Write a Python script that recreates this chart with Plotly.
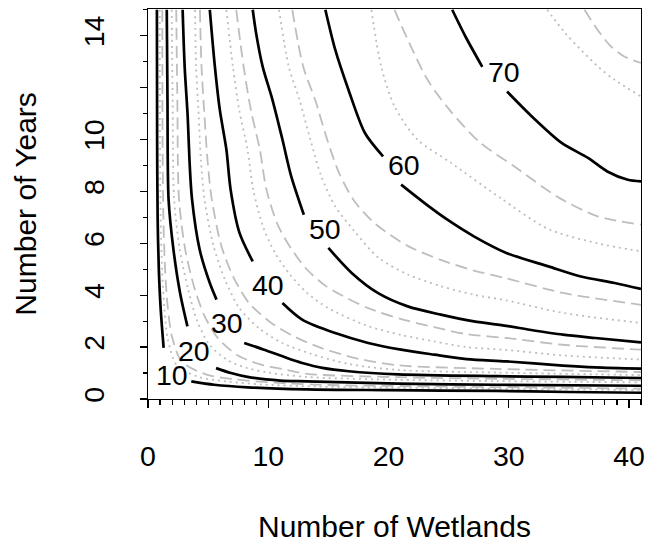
import plotly.graph_objects as go

# ---------------- data ----------------
levels = [10, 20, 30, 40, 50, 60, 70]
label_x = [1.98, 3.83, 6.58, 10.0, 14.68, 21.26, 29.63]
label_y = [0.94, 1.86, 2.94, 4.40, 6.55, 9.00, 12.62]

x_ticks = [0, 10, 20, 30, 40]
y_ticks = [0, 2, 4, 6, 8, 10, 12, 14]
y_tick_text = ["0", "2", "4", "6", "8", "10", "", "14"]

# black (solid) contour lines; None marks the gap left for the label
solid_10_x = [0.74, 0.76, 0.80, 0.90, 1.05, 1.30, None, 3.6, 5.5, 8.3, 13.2, 20, 29, 35, 41]
solid_10_y = [15.0, 10.0, 7.0, 5.0, 3.5, 1.97, None, 0.68, 0.55, 0.45, 0.37, 0.34, 0.31, 0.27, 0.24]
solid_20_x = [1.56, 1.62, 1.71, 2.12, 2.67, 3.28, None, 5.66, 6.9, 8.27, 11.0, 13.2, 20.8, 29, 41]
solid_20_y = [15.0, 11.5, 7.7, 5.75, 4.08, 2.8, None, 1.19, 1.0, 0.85, 0.71, 0.68, 0.59, 0.55, 0.51]
solid_30_x = [2.88, 3.05, 3.3, 3.45, 3.66, 4.3, 5.14, 5.7, None, 8.0, 9.65, 11.56, 12.82, 14.5, 16.7, 20.8, 29, 34.5, 41]
solid_30_y = [15.0, 12.8, 10.9, 9.2, 7.7, 5.75, 4.47, 3.83, None, 2.16, 1.9, 1.58, 1.39, 1.2, 1.07, 0.95, 0.88, 0.85, 0.81]
solid_40_x = [5.14, 5.56, 5.97, 6.52, 6.87, 7.61, 8.71, None, 11.18, 12.82, 15.57, 18.31, 21.05, 23.8, 26.5, 29.8, 34.5, 37.2, 41]
solid_40_y = [15.0, 12.82, 11.15, 9.61, 8.07, 6.4, 5.3, None, 3.7, 3.06, 2.54, 2.16, 1.9, 1.71, 1.54, 1.45, 1.29, 1.22, 1.17]
solid_50_x = [8.71, 8.99, 9.53, 10.35, 11.18, 11.9, 12.96, None, 15.0, 16.94, 19.14, 21.6, 24.35, 27.1, 29.8, 31.75, 34.5, 37.2, 41]
solid_50_y = [15.0, 14.1, 12.82, 11.53, 10.0, 8.6, 7.1, None, 5.82, 4.86, 4.08, 3.57, 3.25, 2.99, 2.82, 2.67, 2.48, 2.35, 2.18]
solid_60_x = [14.75, 15.57, 16.67, 18.04, 19.55, None, 21.05, 23.0, 24.9, 27.1, 29.8, 33.3, 36.0, 38.8, 41]
solid_60_y = [15.0, 13.46, 11.92, 10.25, 9.35, None, 8.26, 7.55, 6.91, 6.27, 5.63, 5.11, 4.72, 4.47, 4.24]
solid_70_x = [25.3, 26.4, 27.8, None, 29.86, 31.9, 34.4, 36.6, 38.2, 39.9, 41]
solid_70_y = [15.0, 13.97, 12.8, None, 11.85, 10.9, 9.87, 9.29, 8.77, 8.45, 8.39]

# grey dotted contour lines
dotted_10_x = [0.98, 1.0, 1.05, 1.17, 1.36, 1.65, 2.4, 4.2, 6.5, 9.5, 14, 20, 29, 41]
dotted_10_y = [15, 10, 7, 5, 3.5, 2.3, 1.3, 0.85, 0.68, 0.56, 0.48, 0.44, 0.40, 0.34]
dotted_20_x = [1.97, 2.05, 2.17, 2.65, 3.35, 4.1, 5.1, 6.6, 8.2, 10, 13.2, 20.8, 29, 41]
dotted_20_y = [15, 11.5, 7.7, 5.75, 4.2, 3.0, 2.1, 1.5, 1.2, 1.02, 0.85, 0.74, 0.69, 0.64]
dotted_30_x = [3.91, 4.0, 4.22, 4.4, 4.7, 5.45, 6.4, 7.6, 9.3, 11.2, 13.5, 16.7, 20.8, 29, 41]
dotted_30_y = [15, 12.8, 10.9, 9.2, 7.7, 5.9, 4.6, 3.5, 2.7, 2.15, 1.75, 1.35, 1.12, 1.02, 0.92]
dotted_40_x = [6.52, 7.06, 7.58, 8.28, 8.75, 9.6, 10.6, 11.8, 13.2, 15.0, 18.31, 21.05, 23.8, 26.5, 29.8, 34.5, 41]
dotted_40_y = [15, 12.82, 11.15, 9.61, 8.07, 6.6, 5.6, 4.8, 4.1, 3.5, 2.81, 2.47, 2.22, 2.0, 1.89, 1.68, 1.52]
dotted_50_x = [10.9, 11.7, 12.6, 13.5, 14.4, 15.6, 17.2, 19.14, 21.6, 24.35, 27.1, 29.8, 34.5, 41]
dotted_50_y = [15, 12.82, 11.53, 10.0, 8.6, 7.4, 6.45, 5.45, 4.8, 4.35, 4.02, 3.8, 3.32, 2.93]
dotted_60_x = [18.58, 19.4, 20.5, 22.4, 25.2, 29.3, 33.3, 37.4, 41]
dotted_60_y = [15, 12.8, 11.28, 10.0, 9.1, 7.75, 6.55, 6.0, 5.69]
dotted_70_x = [33.2, 34.7, 36.0, 37.4, 38.8, 41]
dotted_70_y = [15, 14.1, 13.46, 12.82, 12.3, 11.66]

# grey dashed contour lines
dashed_10_x = [1.19, 1.21, 1.28, 1.42, 1.65, 2.0, 2.8, 4.8, 7.2, 10.5, 15, 21, 29, 41]
dashed_10_y = [15, 10, 7, 5, 3.5, 2.4, 1.45, 0.95, 0.76, 0.63, 0.54, 0.50, 0.46, 0.40]
dashed_20_x = [2.35, 2.44, 2.58, 3.1, 3.85, 4.7, 5.8, 7.4, 9.2, 11.2, 13.2, 20.8, 29, 41]
dashed_20_y = [15, 11.5, 7.7, 5.75, 4.3, 3.2, 2.35, 1.7, 1.35, 1.15, 0.97, 0.84, 0.78, 0.72]
dashed_30_x = [4.32, 4.45, 4.7, 4.95, 5.3, 6.1, 7.1, 8.4, 10.2, 12.2, 14.5, 17.5, 20.8, 29, 41]
dashed_30_y = [15, 12.8, 10.9, 9.2, 7.7, 5.9, 4.7, 3.7, 2.95, 2.4, 1.95, 1.55, 1.3, 1.16, 1.04]
dashed_40_x = [7.34, 7.95, 8.55, 9.3, 9.85, 10.8, 11.9, 13.2, 14.8, 16.5, 18.31, 21.05, 23.8, 26.5, 29.8, 34.5, 41]
dashed_40_y = [15, 12.82, 11.15, 9.61, 8.07, 6.7, 5.8, 5.0, 4.35, 3.9, 3.5, 3.08, 2.77, 2.5, 2.35, 2.09, 1.9]
dashed_50_x = [12.0, 12.9, 13.9, 14.9, 15.9, 17.2, 18.9, 21.6, 24.35, 27.1, 29.8, 34.5, 41]
dashed_50_y = [15, 12.82, 11.53, 10.0, 8.7, 7.6, 6.75, 5.9, 5.36, 4.95, 4.65, 4.09, 3.63]
dashed_60_x = [20.5, 21.6, 23.25, 25.06, 27.5, 30.5, 34.2, 37.4, 41]
dashed_60_y = [15, 13.85, 12.3, 11.15, 9.93, 8.95, 7.75, 7.04, 6.72]
dashed_70_x = [36.3, 37.4, 38.5, 39.6, 41]
dashed_70_y = [15, 14.22, 13.59, 13.2, 12.95]

# ---------------- figure ----------------
FONT = "Arial, Liberation Sans, sans-serif"
GREY = "#BEBEBE"

solid_lines = [(solid_10_x, solid_10_y), (solid_20_x, solid_20_y), (solid_30_x, solid_30_y),
               (solid_40_x, solid_40_y), (solid_50_x, solid_50_y), (solid_60_x, solid_60_y),
               (solid_70_x, solid_70_y)]
dotted_lines = [(dotted_10_x, dotted_10_y), (dotted_20_x, dotted_20_y), (dotted_30_x, dotted_30_y),
                (dotted_40_x, dotted_40_y), (dotted_50_x, dotted_50_y), (dotted_60_x, dotted_60_y),
                (dotted_70_x, dotted_70_y)]
dashed_lines = [(dashed_10_x, dashed_10_y), (dashed_20_x, dashed_20_y), (dashed_30_x, dashed_30_y),
                (dashed_40_x, dashed_40_y), (dashed_50_x, dashed_50_y), (dashed_60_x, dashed_60_y),
                (dashed_70_x, dashed_70_y)]

fig = go.Figure()

for lev, (xs, ys) in zip(levels, dotted_lines):
    fig.add_trace(go.Scatter(x=xs, y=ys, mode="lines", name=f"{lev} (dotted)",
                             line=dict(color=GREY, width=1.8, dash="2px,4px",
                                       shape="spline", smoothing=0.8),
                             hoverinfo="skip", showlegend=False))
for lev, (xs, ys) in zip(levels, dashed_lines):
    fig.add_trace(go.Scatter(x=xs, y=ys, mode="lines", name=f"{lev} (dashed)",
                             line=dict(color=GREY, width=1.8, dash="12px,6px",
                                       shape="spline", smoothing=0.8),
                             hoverinfo="skip", showlegend=False))
for lev, (xs, ys) in zip(levels, solid_lines):
    fig.add_trace(go.Scatter(x=xs, y=ys, mode="lines", name=str(lev),
                             line=dict(color="black", width=2.7,
                                       shape="spline", smoothing=0.8),
                             connectgaps=False, hoverinfo="skip", showlegend=False))

for lev, lx, ly in zip(levels, label_x, label_y):
    fig.add_annotation(x=lx, y=ly, xref="x", yref="y", text=str(lev), showarrow=False,
                       font=dict(family=FONT, size=28.5, color="black"),
                       xanchor="center", yanchor="middle")

PLOT_W = 497.5
PLOT_H = 390.0
# axis titles
fig.add_annotation(x=0.5, y=-(527 - 399.3) / PLOT_H, xref="paper", yref="paper",
                   text="Number of Wetlands",
                   showarrow=False, font=dict(family=FONT, size=30, color="black"),
                   xanchor="center", yanchor="middle")
fig.add_annotation(x=-(147.5 - 23) / PLOT_W, y=0.5, xref="paper", yref="paper",
                   text="Number of Years",
                   showarrow=False, textangle=-90, font=dict(family=FONT, size=30, color="black"),
                   xanchor="center", yanchor="middle")

fig.update_xaxes(range=[0, 41], showgrid=False, zeroline=False,
                 showline=True, linecolor="black", linewidth=1.3, mirror=True,
                 ticks="outside", tickmode="array", tickvals=x_ticks, ticklen=8,
                 tickwidth=1.3, tickcolor="black", ticklabelstandoff=23,
                 tickfont=dict(family=FONT, size=28.5, color="black"),
                 minor=dict(tickmode="linear", tick0=0, dtick=1, ticks="outside",
                            ticklen=5, tickwidth=1.1, tickcolor="black", showgrid=False))
fig.update_yaxes(range=[0, 15.03], showgrid=False, zeroline=False,
                 showline=True, linecolor="black", linewidth=1.3, mirror=True,
                 ticks="outside", tickmode="array", tickvals=y_ticks, ticktext=y_tick_text,
                 ticklen=7, tickwidth=1.3, tickcolor="black", tickangle=-90,
                 ticklabelstandoff=24,
                 tickfont=dict(family=FONT, size=28.5, color="black"),
                 minor=dict(tickmode="linear", tick0=0, dtick=1, ticks="outside",
                            ticklen=4, tickwidth=1.1, tickcolor="black", showgrid=False))

fig.update_layout(width=652, height=542, autosize=False,
                  margin=dict(l=147.5, r=7, t=9.3, b=142.7, pad=0),
                  paper_bgcolor="white", plot_bgcolor="white", showlegend=False)

# remove the default 8px page margin so the 652x542 figure fills the window exactly
fig.write_html("out.html",
               config={"displayModeBar": False, "staticPlot": True},
               post_script="document.body.style.margin='0px';"
                           "document.body.style.overflow='hidden';")
